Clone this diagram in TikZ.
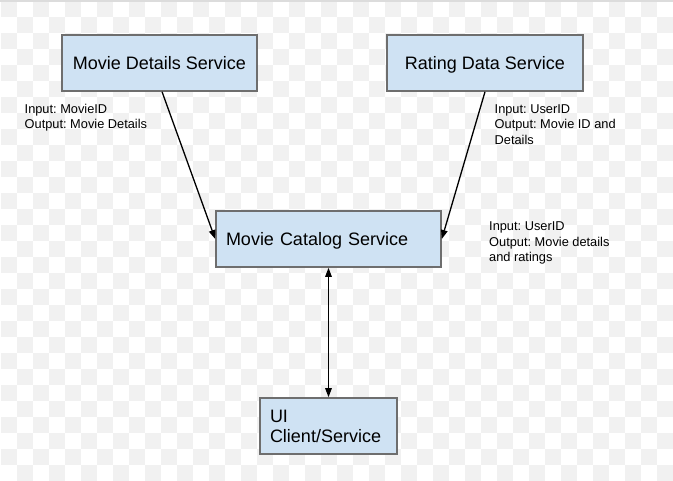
\documentclass[tikz,border=0pt]{standalone}
\usepackage{fontspec}
\setmainfont{Liberation Sans}
\usetikzlibrary{arrows.meta,calc}
\definecolor{boxfill}{HTML}{CFE2F3}
\definecolor{boxline}{HTML}{6E6E6E}
\definecolor{checker}{HTML}{F1F1F1}
\definecolor{topline}{HTML}{DCDCDC}
\frenchspacing
\tikzset{
  svcbox/.style={draw=boxline, fill=boxfill, line width=1.6pt, rectangle,
    minimum height=56pt, inner ysep=0pt, text height=12.9pt, text depth=0pt,
    font=\fontsize{18}{20.7}\selectfont},
  leftbox/.style={svcbox, inner xsep=10pt, align=left},
  infolabel/.style={inner sep=0pt, anchor=north west, align=left,
    font=\fontsize{12.8}{15.5}\selectfont},
  conn/.style={line width=1.3pt, black, -{Triangle[length=9pt,width=6.5pt]}}
}
\begin{document}
\begin{tikzpicture}[x=1pt,y=-1pt]
\useasboundingbox (0,0) rectangle (673,481);
\begin{scope}
\clip (0,0) rectangle (673,481);
\fill[white] (0,0) rectangle (673,481);
\foreach \i in {0,2,...,42}{
  \foreach \j in {0,2,...,30}{
    \fill[checker] (16*\i+1,16*\j+1) rectangle ++(16,16);
    \fill[checker] (16*\i+17,16*\j+17) rectangle ++(16,16);
  }
}
\fill[topline] (0,0) rectangle (673,1.6);
\end{scope}

\node[svcbox, minimum width=195pt] (mds) at (159.5,63) {Movie Details Service};
\node[svcbox, minimum width=196pt] (rds) at (485,63) {Rating Data Service};
\node[leftbox, text width=205pt] (mcs) at (328.5,239) {Movie Catalog Service};
\node[leftbox, text width=117pt, text depth=20.7pt] (ui) at (328.5,426) {UI\\Client/Service};

\node[infolabel] (l1) at (24.5,104) {Input: MovieID\\Output: Movie Details};
\node[infolabel] (l2) at (494.5,104) {Input: UserID\\Output: Movie ID and\\Details};
\node[infolabel] (l3) at (489,221.5) {Input: UserID\\Output: Movie details\\and ratings};

\draw[conn] ($(mds.south west)!0.513!(mds.south east)$) -- (mcs.west);
\draw[conn] (rds.south) -- (mcs.east);
\draw[conn, {Triangle[length=9pt,width=6.5pt]}-{Triangle[length=9pt,width=6.5pt]}] (mcs.south) -- (ui.north);
\end{tikzpicture}
\end{document}
